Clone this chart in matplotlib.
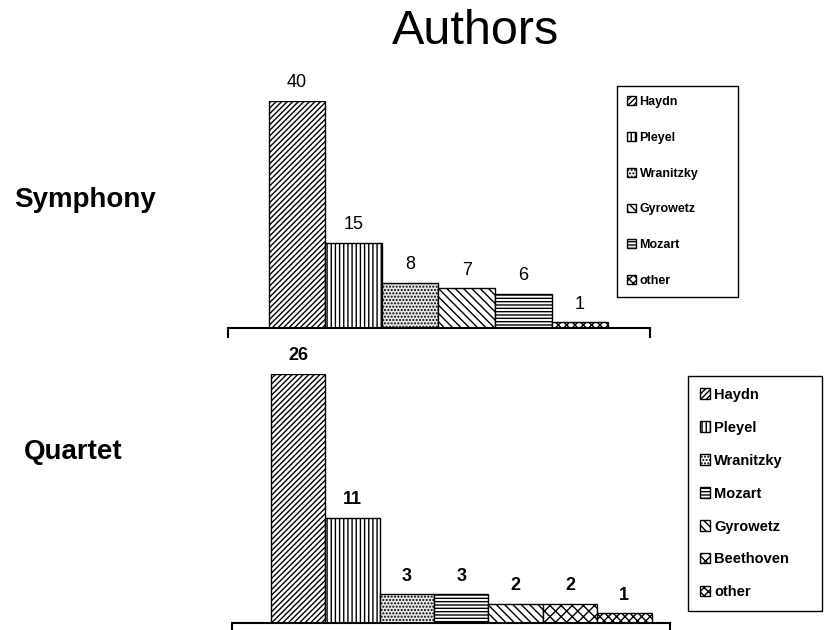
import matplotlib.pyplot as plt
from matplotlib.patches import Patch

plt.rcParams['font.family'] = ['Liberation Sans', 'DejaVu Sans']
plt.rcParams['hatch.linewidth'] = 1.0

sym_authors = ['Haydn', 'Pleyel', 'Wranitzky', 'Gyrowetz', 'Mozart', 'other']
sym_counts = [40, 15, 8, 7, 6, 1]

qua_authors = ['Haydn', 'Pleyel', 'Wranitzky', 'Mozart', 'Gyrowetz', 'Beethoven', 'other']
qua_counts = [26, 11, 3, 3, 2, 2, 1]

hatches = {'Haydn': '//////', 'Pleyel': '||||', 'Wranitzky': '.....', 'Gyrowetz': '\\\\\\\\',
           'Mozart': '-----', 'Beethoven': 'xxx', 'other': 'xxxx'}
faces = {'Wranitzky': '#e8e8e8'}

fig = plt.figure(figsize=(8.24, 6.3), dpi=100)
W, H = 824.0, 630.0


def px_axes(x0, x1, ybase, ytop):
    return fig.add_axes([x0 / W, (H - ybase) / H, (x1 - x0) / W, (ybase - ytop) / H])


def draw_panel(ax, authors, counts, xlim, label_bold, legend_box, legend_font, lspacing):
    xs = range(len(authors))
    bars = ax.bar(xs, counts, width=1.0, color=[faces.get(a, 'white') for a in authors],
                  edgecolor='black', linewidth=1.0, hatch=[hatches[a] for a in authors])
    for b, v in zip(bars, counts):
        ax.annotate(str(v), (b.get_x() + b.get_width() / 2, v), xytext=(0, 7),
                    textcoords='offset points', ha='center', va='bottom', fontsize=13,
                    fontweight='bold' if label_bold else 'normal')
    ax.set_xlim(*xlim)
    ax.set_ylim(0, max(counts))
    for s in ['top', 'right', 'left']:
        ax.spines[s].set_visible(False)
    ax.spines['bottom'].set_linewidth(1.5)
    ax.set_yticks([])
    ax.set_xticks(list(xlim))
    ax.set_xticklabels([])
    ax.tick_params(axis='x', direction='out', length=7, width=1.5)
    handles = [Patch(facecolor='white', edgecolor='black', hatch=hatches[a], label=a)
               for a in authors]
    lx0, ly0, lx1 = legend_box
    leg = fig.legend(handles=handles, loc='upper left',
                     bbox_to_anchor=(lx0 / W, 1 - ly0 / H, (lx1 - lx0) / W, 0.0),
                     mode='expand', fancybox=False, framealpha=1, borderaxespad=0,
                     handlelength=0.7, handleheight=0.7, handletextpad=0.3,
                     labelspacing=lspacing, borderpad=0.8,
                     prop={'weight': 'bold', 'size': legend_font})
    leg.get_frame().set_edgecolor('black')
    leg.get_frame().set_linewidth(1.0)


ax1 = px_axes(228, 650, 328, 101)
draw_panel(ax1, sym_authors, sym_counts, (-1.22, 6.24), False,
           (617, 86, 738), 9, 1.9)

ax2 = px_axes(232, 670, 623, 374)
draw_panel(ax2, qua_authors, qua_counts, (-1.22, 6.84), True,
           (688, 376, 822), 10.5, 1.3)

fig.text(476 / W, 1 - 32 / H, 'Authors', fontsize=35, ha='center', va='center')
fig.text(85 / W, 1 - 200 / H, 'Symphony', fontsize=20, fontweight='bold', ha='center', va='center')
fig.text(73 / W, 1 - 452 / H, 'Quartet', fontsize=20, fontweight='bold', ha='center', va='center')

fig.savefig('out.png', dpi=100)
